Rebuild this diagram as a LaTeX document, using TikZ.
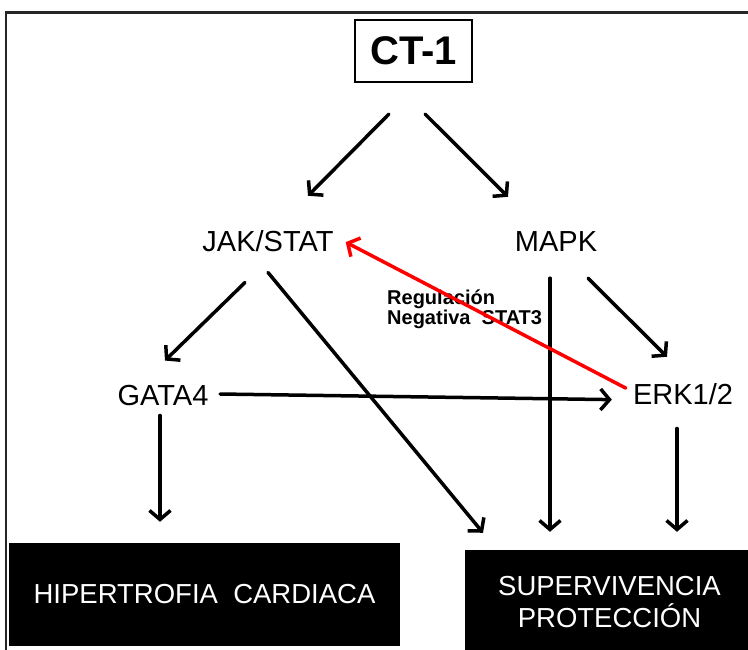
\documentclass[tikz,border=0pt]{standalone}
\usepackage{fontspec}
\setmainfont{Liberation Sans}
\usetikzlibrary{arrows.meta}
\begin{document}
\begin{tikzpicture}[x=1pt,y=-1pt,
  lbl/.style={font=\fontsize{29}{33}\selectfont, inner sep=0pt, anchor=base},
  outbox/.style={fill=black, draw=none, inner sep=0pt, text=white},
  flow/.style={line width=3.5pt, line cap=round,
    -{Straight Barb[length=9pt,width=21pt,line width=3.5pt]}},
  neg/.style={flow, draw=red, color=red}]
\useasboundingbox (0,0) rectangle (748,650);

% frame lines (top and left)
\draw[line width=2.5pt, black!85] (6,650) -- (6,12.5) -- (748,12.5);

% top ligand
\node[draw, line width=2pt, minimum width=117pt, minimum height=62pt, inner sep=0pt,
      font=\fontsize{40}{44}\selectfont\bfseries] (ct) at (413.5,51) {CT-1};

% pathway nodes
\node[lbl] (jak)  at (268,252) {JAK/STAT};
\node[lbl] (mapk) at (556,252) {MAPK};
\node[lbl] (gata) at (163,405) {GATA4};
\node[lbl] (erk)  at (683,404) {ERK1/2};

% outcome boxes
\node[outbox, minimum width=391pt, minimum height=103pt,
      font=\fontsize{27.5}{31}\selectfont] (hip) at (204.5,594.5) {HIPERTROFIA\ \ CARDIACA};
\node[outbox, minimum width=283pt, minimum height=100pt] (sup) at (606.5,600) {};
\node[inner sep=0pt, text=white, align=center,
      font=\fontsize{27.5}{32}\selectfont] (suptxt) at ([shift={(3,2)}]sup.center)
      {SUPERVIVENCIA\\PROTECCIÓN};

% annotation of the inhibitory arrow
\node[anchor=base west, inner sep=0pt, align=left,
      font=\fontsize{20}{19.5}\selectfont\bfseries] (regtxt) at (387,324)
      {Regulación\\Negativa\ \ STAT3};

% connectors
\draw[flow] ([shift={(-24.5,31)}]ct.south) -- ([shift={(40,-35)}]jak.north);
\draw[flow] ([shift={(11.5,31)}]ct.south) -- ([shift={(-48,-35)}]mapk.north);
\draw[flow] ([shift={(-23,30)}]jak.south) -- ([shift={(2,-24)}]gata.north);
\draw[flow] ([shift={(0,20)}]jak.south) -- ([shift={(-123.5,-17)}]sup.north);
\draw[flow] ([shift={(-6,26)}]mapk.south) -- ([shift={(-56.5,-18)}]sup.north);
\draw[flow] ([shift={(32,26)}]mapk.south) -- ([shift={(-16,-26)}]erk.north);
\draw[flow] ([shift={(11.5,-1)}]gata.east) -- ([shift={(-21,6)}]erk.west);
\draw[flow] ([shift={(-6,24)}]erk.south) -- ([shift={(70.5,-18)}]sup.north);
\draw[flow] ([shift={(-3,10)}]gata.south) -- ([shift={(-44.5,-21)}]hip.north);
\draw[neg]  ([shift={(-7,-5.5)}]erk.west) -- ([shift={(12,0.5)}]jak.east);
\end{tikzpicture}
\end{document}
